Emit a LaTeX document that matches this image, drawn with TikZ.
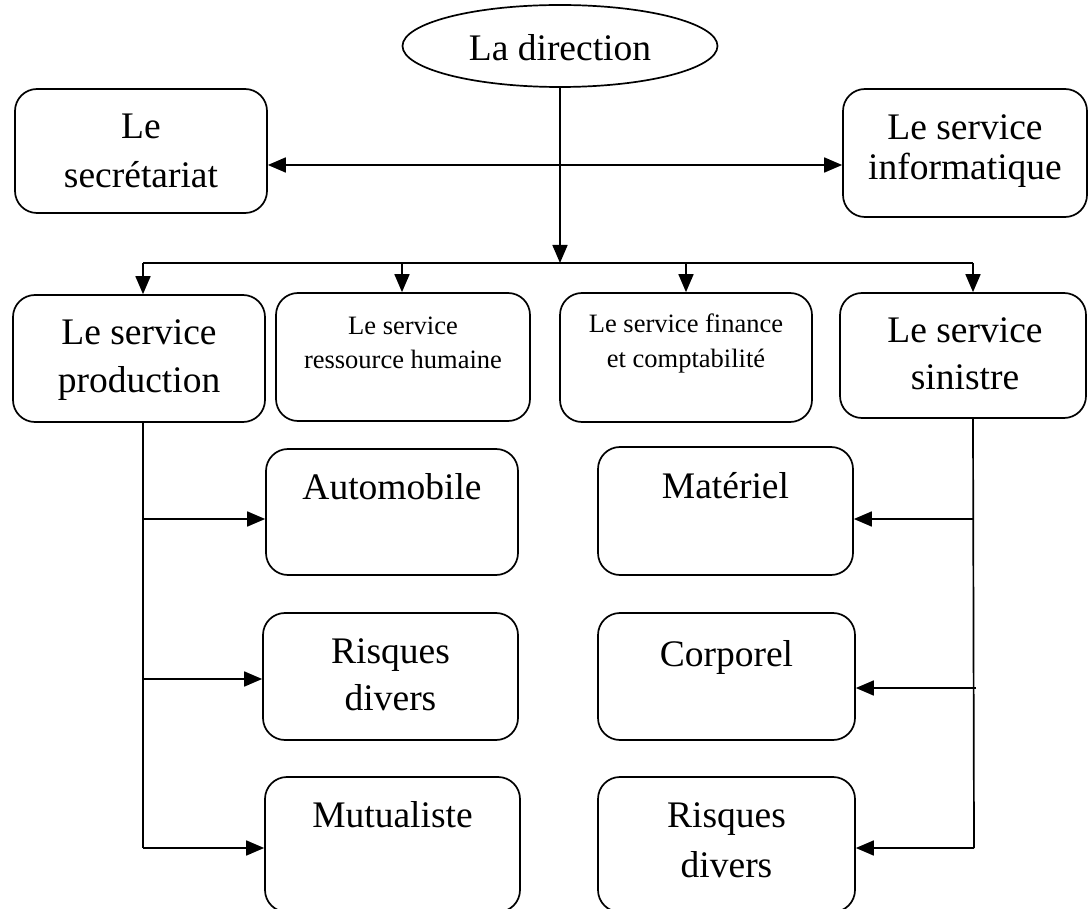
\documentclass[tikz,border=0pt]{standalone}
\usepackage{fontspec}
\setmainfont{Liberation Serif}
\usetikzlibrary{arrows.meta,shapes.geometric}
\begin{document}
\begin{tikzpicture}[x=1pt,y=-1pt,
  box/.style={draw, line width=1.7pt, rounded corners=22pt, inner sep=0pt},
  big/.style={font=\fontsize{37.5}{45}\selectfont, anchor=base, inner sep=0pt},
  small/.style={font=\fontsize{26.5}{32}\selectfont, anchor=base, inner sep=0pt},
  conn/.style={line width=1.7pt},
  tip/.tip={Triangle[length=18pt,width=15pt]},
  arr/.style={conn, -tip},
  dblarr/.style={conn, tip-tip}]
\useasboundingbox[clip] (0,0) rectangle (1088,909);
% top
\node[draw, ellipse, line width=1.7pt, minimum width=315pt, minimum height=82pt, inner sep=0pt] (dir) at (560,46) {};
\node[big] (dir-t) at (560,61) {La direction};
% boxes
\node[box, minimum width=252pt, minimum height=124pt] (sec) at (141,151) {};
\node[box, minimum width=244pt, minimum height=128pt] (info) at (965,153) {};
\node[box, minimum width=252pt, minimum height=127pt] (prod) at (139,358.5) {};
\node[box, minimum width=254pt, minimum height=128pt] (rh) at (403,357) {};
\node[box, minimum width=252pt, minimum height=129pt] (fin) at (686,357.5) {};
\node[box, minimum width=246pt, minimum height=125pt] (sin) at (963,355.5) {};
\node[box, minimum width=252pt, minimum height=126pt] (auto) at (392,512) {};
\node[box, minimum width=255pt, minimum height=127pt] (risL) at (390.5,676.5) {};
\node[box, minimum width=255pt, minimum height=135pt] (mut) at (392.5,844.5) {};
\node[box, minimum width=255pt, minimum height=128pt] (mat) at (725.5,511) {};
\node[box, minimum width=257pt, minimum height=127pt] (corp) at (726.5,676.5) {};
\node[box, minimum width=257pt, minimum height=135pt] (risR) at (726.5,844.5) {};
% texts
\node[big] (sec-t1) at (141,139) {Le};
\node[big] (sec-t2) at (141,188) {secrétariat};
\node[big] (info-t1) at (965,140) {Le service};
\node[big] (info-t2) at (965,180) {informatique};
\node[big] (prod-t1) at (139,345) {Le service};
\node[big] (prod-t2) at (139,393) {production};
\node[small] (rh-t1) at (403,335) {Le service};
\node[small] (rh-t2) at (403,369) {ressource humaine};
\node[small] (fin-t1) at (686,333) {Le service finance};
\node[small] (fin-t2) at (686,368) {et comptabilité};
\node[big] (sin-t1) at (965,343) {Le service};
\node[big] (sin-t2) at (965,390) {sinistre};
\node[big] (auto-t) at (392,499) {Automobile};
\node[big] (risL-t1) at (390.5,663) {Risques};
\node[big] (risL-t2) at (390.5,710) {divers};
\node[big] (mut-t) at (392.5,827) {Mutualiste};
\node[big] (mat-t) at (725.5,498) {Matériel};
\node[big] (corp-t) at (726.5,666) {Corporel};
\node[big] (risR-t1) at (726.5,827) {Risques};
\node[big] (risR-t2) at (726.5,877) {divers};
% connectors
\coordinate (dbl) at (560,165);
\coordinate (bus) at (560,263);
\coordinate (busL) at (143,263);
\coordinate (busRH) at (402,263);
\coordinate (busF) at (686,263);
\coordinate (busR) at (973,263);
\draw[dblarr] (sec.east |- dbl) -- (info.west |- dbl);
\draw[arr] (dir.south) -- (bus);
\draw[conn] (busL) -- (busR);
\draw[arr] (busL) -- (busL |- prod.north);
\draw[arr] (busRH) -- (busRH |- rh.north);
\draw[arr] (busF) -- (busF |- fin.north);
\draw[arr] (busR) -- (busR |- sin.north);
% left branch
\coordinate (lA) at (143,519);
\coordinate (lB) at (143,679);
\coordinate (lC) at (143,848);
\draw[conn] (lA |- prod.south) -- (lC);
\draw[arr] (lA) -- (auto.west |- lA);
\draw[arr] (lB) -- (risL.west |- lB);
\draw[arr] (lC) -- (mut.west |- lC);
% right branch
\coordinate (rA) at (973,519);
\coordinate (rB) at (976,688);
\coordinate (rC) at (974,848);
\draw[conn] (rA |- sin.south) -- (rC);
\draw[arr] (rA) -- (mat.east |- rA);
\draw[arr] (rB) -- (corp.east |- rB);
\draw[arr] (rC) -- (risR.east |- rC);
\end{tikzpicture}
\end{document}
